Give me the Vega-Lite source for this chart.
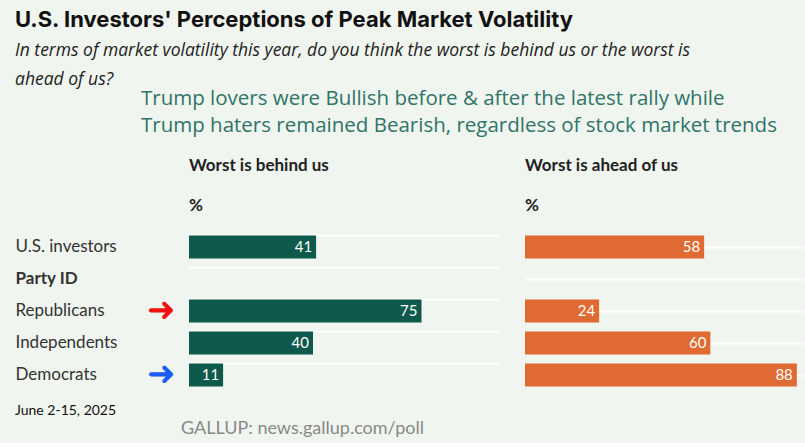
{
  "$schema": "https://vega.github.io/schema/vega-lite/v6.json",
  "background": "#f1f5ef",
  "padding": {"left": 15, "top": 8, "right": 5, "bottom": 5},
  "config": {
    "view": {"stroke": null},
    "font": "Lato",
    "concat": {"spacing": 0}
  },
  "title": {
    "text": "U.S. Investors' Perceptions of Peak Market Volatility",
    "subtitle": ["In terms of market volatility this year, do you think the worst is behind us or the worst is", "ahead of us?"],
    "anchor": "start",
    "font": "Inter",
    "fontSize": 22,
    "fontWeight": "bold",
    "color": "#111",
    "subtitleFont": "Open Sans",
    "subtitleFontStyle": "italic",
    "subtitleFontSize": 17.5,
    "subtitleColor": "#222",
    "subtitleLineHeight": 29,
    "subtitlePadding": 10,
    "offset": 0
  },
  "datasets": {
    "rows": [
      {"group": "U.S. investors", "behind": 41, "ahead": 58},
      {"group": "Party ID"},
      {"group": "Republicans", "behind": 75, "ahead": 24, "arrow": "red"},
      {"group": "Independents", "behind": 40, "ahead": 60},
      {"group": "Democrats", "behind": 11, "ahead": 88, "arrow": "blue"}
    ]
  },
  "vconcat": [
    {
      "width": 600,
      "height": 30,
      "data": {"values": [{"note": "Trump lovers were Bullish before & after the latest rally while\nTrump haters remained Bearish, regardless of stock market trends"}]},
      "mark": {"type": "text", "align": "left", "baseline": "top", "fontSize": 20.5, "font": "Open Sans", "color": "#2e7468", "lineHeight": 27, "lineBreak": "\n", "dy": -38},
      "encoding": {"text": {"field": "note"}, "x": {"value": -48}, "y": {"value": 0}}
    },
    {
      "spacing": 26,
      "hconcat": [
        {
          "width": 310,
          "height": 160,
          "data": {"name": "rows"},
          "title": {"text": ["Worst is behind us", "%"], "anchor": "start", "frame": "group", "fontSize": 17, "fontWeight": "bold", "color": "#222", "lineHeight": 40, "offset": 16},
          "encoding": {
            "y": {
              "field": "group", "type": "nominal", "sort": null, "title": null,
              "axis": {
                "orient": "left", "labelAlign": "left", "labelPadding": 174, "ticks": false, "domain": false,
                "labelFontSize": 17, "labelColor": "#333", "labelFont": "Lato",
                "labelFontWeight": {"expr": "datum.value == 'Party ID' ? 'bold' : 'normal'"},
                "grid": true, "gridColor": "#ffffff", "gridWidth": 2, "bandPosition": 0
              },
              "scale": {"domain": ["U.S. investors", "Party ID", "Republicans", "Independents", "Democrats"], "paddingInner": 0.28, "paddingOuter": 0.14}
            }
          },
          "layer": [
            {
              "mark": {"type": "bar", "color": "#0d5a4c"},
              "encoding": {"x": {"field": "behind", "type": "quantitative", "scale": {"domain": [0, 100]}, "axis": null}}
            },
            {
              "mark": {"type": "text", "align": "right", "dx": -4, "color": "white", "fontSize": 15},
              "encoding": {"x": {"field": "behind", "type": "quantitative"}, "text": {"field": "behind"}}
            },
            {
              "transform": [{"filter": "datum.arrow"}],
              "mark": {"type": "text", "text": "➜", "fontSize": 34, "dx": -28, "align": "center", "clip": false},
              "encoding": {
                "x": {"datum": 0},
                "color": {"field": "arrow", "type": "nominal", "scale": {"domain": ["red", "blue"], "range": ["#f01010", "#1a5cf5"]}, "legend": null}
              }
            }
          ]
        },
        {
          "width": 278,
          "height": 160,
          "data": {"name": "rows"},
          "title": {"text": ["Worst is ahead of us", "%"], "anchor": "start", "frame": "group", "fontSize": 17, "fontWeight": "bold", "color": "#222", "lineHeight": 40, "offset": 16},
          "encoding": {
            "y": {
              "field": "group", "type": "nominal", "sort": null, "title": null,
              "axis": {"labels": false, "ticks": false, "domain": false, "grid": true, "gridColor": "#ffffff", "gridWidth": 2},
              "scale": {"domain": ["U.S. investors", "Party ID", "Republicans", "Independents", "Democrats"], "paddingInner": 0.28, "paddingOuter": 0.14}
            }
          },
          "layer": [
            {
              "mark": {"type": "bar", "color": "#df6a33"},
              "encoding": {"x": {"field": "ahead", "type": "quantitative", "scale": {"domain": [0, 90]}, "axis": null}}
            },
            {
              "mark": {"type": "text", "align": "right", "dx": -4, "color": "white", "fontSize": 15},
              "encoding": {"x": {"field": "ahead", "type": "quantitative"}, "text": {"field": "ahead"}}
            }
          ]
        }
      ]
    },
    {
      "width": 600,
      "height": 30,
      "data": {"values": [
        {"t": "June 2-15, 2025", "pos": -174, "row": 0, "c": "#111", "s": 14},
        {"t": "GALLUP:  news.gallup.com/poll", "pos": -8, "row": 1, "c": "#888", "s": 18}
      ]},
      "mark": {"type": "text", "align": "left", "baseline": "middle"},
      "encoding": {
        "x": {"field": "pos", "type": "quantitative", "scale": {"domain": [-174, 600], "range": [-174, 600]}, "axis": null},
        "y": {"field": "row", "type": "quantitative", "scale": {"domain": [0, 1], "range": [18, 36]}, "axis": null},
        "text": {"field": "t"},
        "color": {"field": "c", "type": "nominal", "scale": null},
        "size": {"field": "s", "type": "quantitative", "scale": null}
      }
    }
  ]
}
